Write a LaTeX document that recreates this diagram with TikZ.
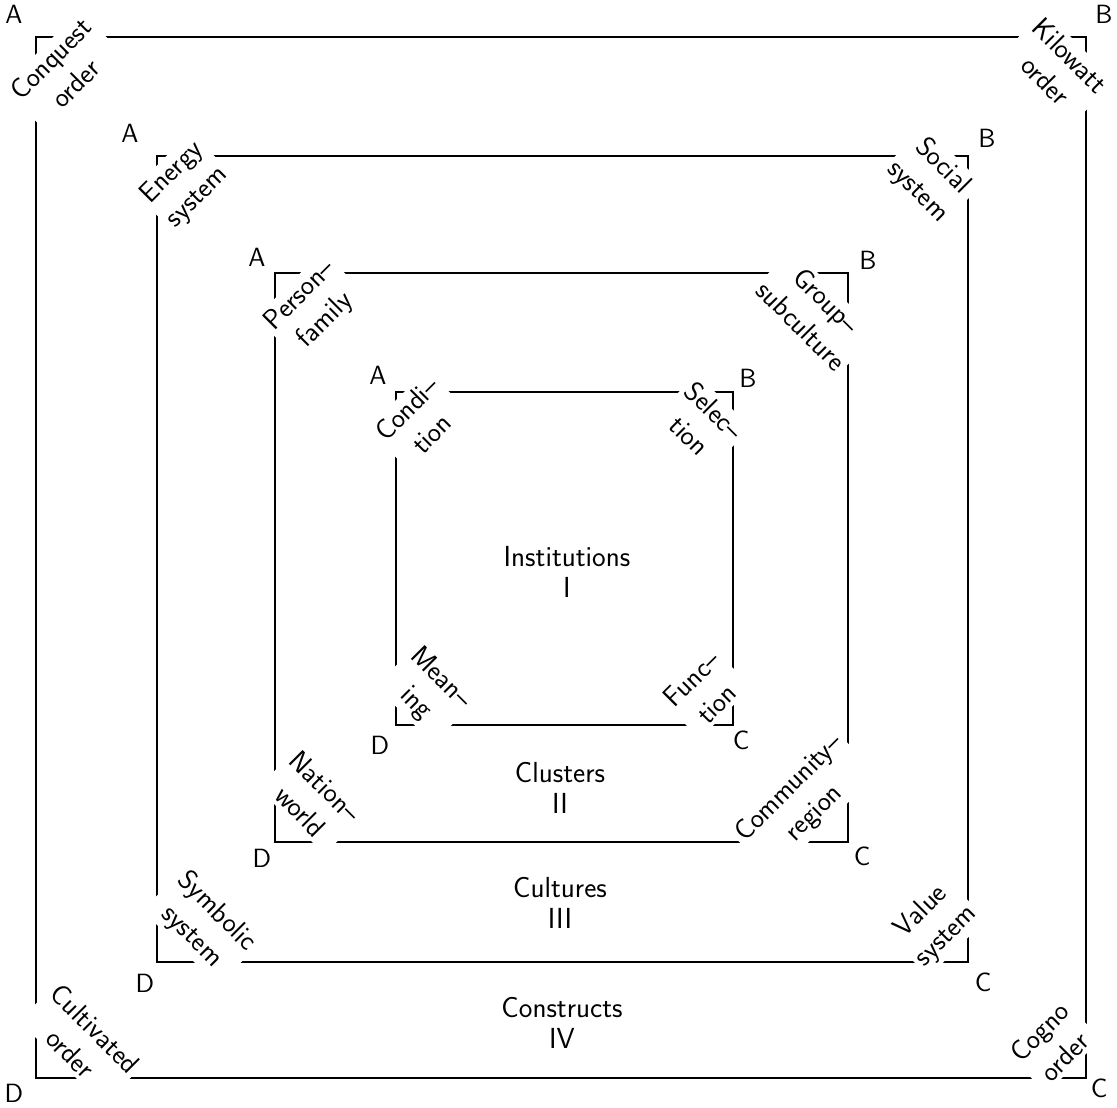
\documentclass[tikz,border=0pt]{standalone}
\usepackage{tikz}
\begin{document}
\begin{tikzpicture}[x=0.02cm, y=-0.02cm,
  frame/.style={line width=1.3pt},
  vertex/.style={font=\sffamily\fontsize{15}{16}\selectfont, inner sep=0pt},
  cornertext/.style={fill=white, inner sep=2pt, align=center,
    font=\sffamily\fontsize{16}{20}\selectfont},
  ringtext/.style={align=center, font=\sffamily\fontsize{16.5}{18}\selectfont}]
  \useasboundingbox (0,0) rectangle (1117,1107);

  % --- nested squares, corners A B C D ---
  \foreach \l/\t/\r/\b/\n in {36/37/1086/1078/4, 157/156/968/962/3,
                             275/273/848/842/2, 396/392/733/725/1} {
    \coordinate (A\n) at (\l,\t);
    \coordinate (B\n) at (\r,\t);
    \coordinate (C\n) at (\r,\b);
    \coordinate (D\n) at (\l,\b);
    \draw[frame] (A\n) -- (B\n) -- (C\n) -- (D\n) -- cycle;
  }

  % --- corner letters ---
  \node[vertex] (la4) at (14,14) {A};
  \node[vertex] (lb4) at (1104,14) {B};
  \node[vertex] (lc4) at (1099,1088) {C};
  \node[vertex] (ld4) at (14,1093) {D};
  \node[vertex] (la3) at (130,133) {A};
  \node[vertex] (lb3) at (987,138) {B};
  \node[vertex] (lc3) at (983,982) {C};
  \node[vertex] (ld3) at (145,983) {D};
  \node[vertex] (la2) at (257,257) {A};
  \node[vertex] (lb2) at (868,260) {B};
  \node[vertex] (lc2) at (862,856) {C};
  \node[vertex] (ld2) at (262,858) {D};
  \node[vertex] (la1) at (378,375) {A};
  \node[vertex] (lb1) at (748,378) {B};
  \node[vertex] (lc1) at (741,740) {C};
  \node[vertex] (ld1) at (380,745) {D};

  % --- diagonal corner texts ---
  \node[cornertext, rotate=45]  (conquest) at (63,71) {Conquest\\order};
  \node[cornertext, rotate=-45] (kilowatt) at (1058,68) {Kilowatt\\order};
  \node[cornertext, rotate=45]  (cogno) at (1052,1044) {Cogno\\order};
  \node[cornertext, rotate=-45] (cultivated) at (83,1041) {Cultivated\\order};

  \node[cornertext, rotate=45]  (energy) at (185,185) {Energy\\system};
  \node[cornertext, rotate=-45] (social) at (930,179) {Social\\system};
  \node[cornertext, rotate=45]  (value) at (934,924) {Value\\system};
  \node[cornertext, rotate=-45] (symbolic) at (204,924) {Symbolic\\system};

  \node[cornertext, rotate=45]  (person) at (313,308) {Person--\\family};
  \node[cornertext, rotate=-45] (group) at (814,313) {Group--\\subculture};
  \node[cornertext, rotate=45]  (community) at (802,801) {Community--\\region};
  \node[cornertext, rotate=-45] (nation) at (313,799) {Nation--\\world};

  \node[cornertext, rotate=45]  (condition) at (419,421) {Condi--\\tion};
  \node[cornertext, rotate=-45] (selection) at (702,423) {Selec--\\tion};
  \node[cornertext, rotate=45]  (function) at (704,691) {Func--\\tion};
  \node[cornertext, rotate=-45] (meaning) at (428,691) {Mean--\\ing};

  % --- ring names ---
  \node[ringtext] (institutions) at (567,572) {Institutions\\I};
  \node[ringtext] (clusters) at (560,788) {Clusters\\II};
  \node[ringtext] (cultures) at (560,903) {Cultures\\III};
  \node[ringtext] (constructs) at (562,1023) {Constructs\\IV};
\end{tikzpicture}
\end{document}
